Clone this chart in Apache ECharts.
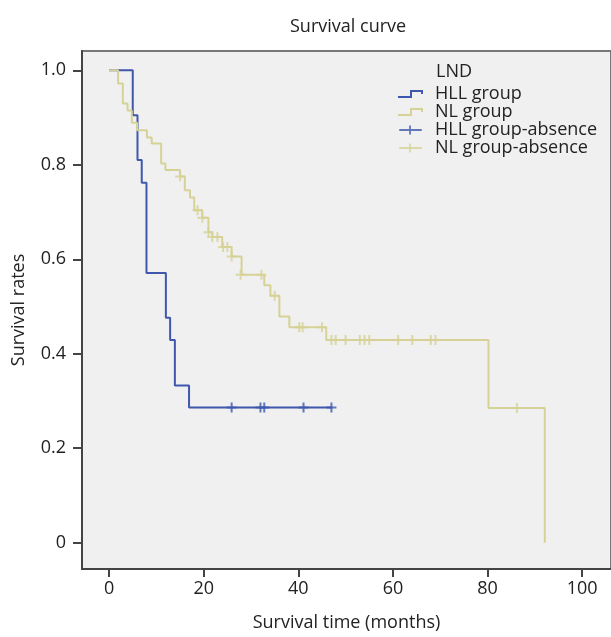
<!DOCTYPE html>
<html>
<head>
<meta charset="utf-8">
<script src="https://cdn.jsdelivr.net/npm/echarts@6/dist/echarts.min.js"></script>
<style>
  html, body { margin: 0; padding: 0; background: #fff; }
  #chart { width: 611px; height: 637px; }
</style>
</head>
<body>
<div id="chart"></div>
<script>
// tick labels
var xTicks = [0, 20, 40, 60, 80, 100]
var yTicks = [0, 0.2, 0.4, 0.6, 0.8, 1.0]
var yTickLabels = ['0', '0.2', '0.4', '0.6', '0.8', '1.0']

// HLL group (step points: time, survival after the event)
var hllTimes = [0, 5.0, 6.0, 6.9, 7.9, 12.0, 12.9, 13.9, 16.9, 47.2]
var hllSurv = [1, 0.905, 0.810, 0.762, 0.571, 0.476, 0.429, 0.333, 0.286, 0.286]
// HLL group censored
var hllCensT = [25.9, 32.0, 32.8, 41.1, 47.0]
var hllCensS = [0.286, 0.286, 0.286, 0.286, 0.286]

// NL group
var nlTimes = [0, 1.9, 2.9, 3.9, 4.8, 5.9, 8.0, 9.0, 11.0, 11.9, 15.0, 16.0, 17.1, 18.0, 19.7, 21.0, 21.8, 23.9, 25.9, 28.0, 32.8, 34.1, 36.0, 38.1, 45.9, 80.2, 92.1]
var nlSurv = [1, 0.972, 0.930, 0.915, 0.889, 0.873, 0.858, 0.845, 0.803, 0.789, 0.775, 0.746, 0.731, 0.704, 0.688, 0.657, 0.647, 0.626, 0.606, 0.567, 0.545, 0.523, 0.479, 0.456, 0.429, 0.285, 0]
// NL group censored
var nlCensT = [15.0, 18.7, 19.7, 21.0, 21.8, 22.9, 24.1, 25.0, 25.9, 27.8, 32.2, 35.0, 40.2, 40.9, 45.0, 47.0, 47.9, 50.0, 53.0, 54.0, 55.0, 61.1, 64.1, 68.0, 69.0, 86.2]
var nlCensS = [0.775, 0.704, 0.688, 0.657, 0.647, 0.647, 0.626, 0.626, 0.606, 0.567, 0.567, 0.523, 0.456, 0.456, 0.456, 0.429, 0.429, 0.429, 0.429, 0.429, 0.429, 0.429, 0.429, 0.429, 0.429, 0.285]

var BLUE = '#3f57ad'
var YELLOW = '#d6d296'
var FONT = 'Open Sans'
var FS = 18
var plusSymbol = 'path://M4,0h2v10h-2z M0,4h10v2h-10z'

function zip(a, b) {
  return a.map(function (v, i) { return [v, b[i]] })
}

var chart = echarts.init(document.getElementById('chart'))

var option = {
  backgroundColor: '#fff',
  animation: false,
  textStyle: { fontFamily: FONT },
  title: [
    {
      text: 'Survival curve',
      left: 285,
      top: 13,
      textStyle: { fontFamily: FONT, fontSize: FS, fontWeight: 'normal', color: '#222' }
    },
    {
      text: 'LND',
      left: 431,
      top: 58,
      textStyle: { fontFamily: FONT, fontSize: FS, fontWeight: 'normal', color: '#222' }
    }
  ],
  legend: {
    orient: 'vertical',
    left: 398,
    top: 85,
    padding: 0,
    itemWidth: 25,
    itemHeight: 9,
    itemGap: 0,
    selectedMode: false,
    textStyle: { fontFamily: FONT, fontSize: FS, color: '#222', lineHeight: 17, padding: [0, 0, 0, 7] },
    data: [
      { name: 'HLL group', icon: 'path://M0,7h14v2h-14z M12,1h2v8h-2z M12,1h13v2h-13z M23,1h2v4h-2z' },
      { name: 'NL group', icon: 'path://M0,7h14v2h-14z M12,1h2v8h-2z M12,1h13v2h-13z M23,1h2v4h-2z' },
      { name: 'HLL group-absence', icon: 'path://M0,4h25v2h-25z M11,0h2v10h-2z' },
      { name: 'NL group-absence', icon: 'path://M0,4h25v2h-25z M11,0h2v10h-2z' }
    ]
  },
  grid: {
    left: 82,
    top: 51,
    right: -4,
    bottom: 60,
    show: true,
    backgroundColor: '#f0f0f0',
    borderColor: '#777',
    borderWidth: 2
  },
  xAxis: {
    type: 'value',
    min: -5.73,
    max: 106.1,
    name: 'Survival time (months)',
    nameLocation: 'middle',
    nameGap: 45,
    nameTextStyle: { fontFamily: FONT, fontSize: FS, color: '#222' },
    axisLine: { onZero: false, lineStyle: { color: '#444', width: 2 } },
    axisTick: { show: true, length: 8, lineStyle: { color: '#444', width: 2 }, customValues: xTicks },
    axisLabel: { customValues: xTicks, margin: 11, fontFamily: FONT, fontSize: FS, color: '#222' },
    splitLine: { show: false }
  },
  yAxis: {
    type: 'value',
    min: -0.0557,
    max: 1.0409,
    name: 'Survival rates',
    nameLocation: 'middle',
    nameGap: 54,
    nameTextStyle: { fontFamily: FONT, fontSize: FS, color: '#222' },
    axisLine: { show: true, onZero: false, lineStyle: { color: '#444', width: 2 } },
    axisTick: { show: true, length: 9, lineStyle: { color: '#444', width: 2 }, customValues: yTicks },
    axisLabel: {
      customValues: yTicks,
      margin: 16,
      fontFamily: FONT,
      fontSize: FS,
      color: '#222',
      formatter: function (v) {
        var i = yTicks.findIndex(function (t) { return Math.abs(t - v) < 1e-6 })
        return i >= 0 ? yTickLabels[i] : ''
      }
    },
    splitLine: { show: false }
  },
  series: [
    {
      name: 'HLL group',
      type: 'line',
      step: 'end',
      data: zip(hllTimes, hllSurv),
      showSymbol: false,
      symbol: 'none',
      color: BLUE,
      lineStyle: { color: BLUE, width: 2 },
      z: 2
    },
    {
      name: 'NL group',
      type: 'line',
      step: 'end',
      data: zip(nlTimes, nlSurv),
      showSymbol: false,
      symbol: 'none',
      color: YELLOW,
      lineStyle: { color: YELLOW, width: 2 },
      z: 3
    },
    {
      name: 'HLL group-absence',
      type: 'scatter',
      data: zip(hllCensT, hllCensS),
      symbol: plusSymbol,
      symbolSize: 10,
      color: BLUE,
      itemStyle: { color: BLUE },
      z: 4
    },
    {
      name: 'NL group-absence',
      type: 'scatter',
      data: zip(nlCensT, nlCensS),
      symbol: plusSymbol,
      symbolSize: 10,
      color: YELLOW,
      itemStyle: { color: YELLOW },
      z: 4
    }
  ]
}

chart.setOption(option)
</script>
</body>
</html>
